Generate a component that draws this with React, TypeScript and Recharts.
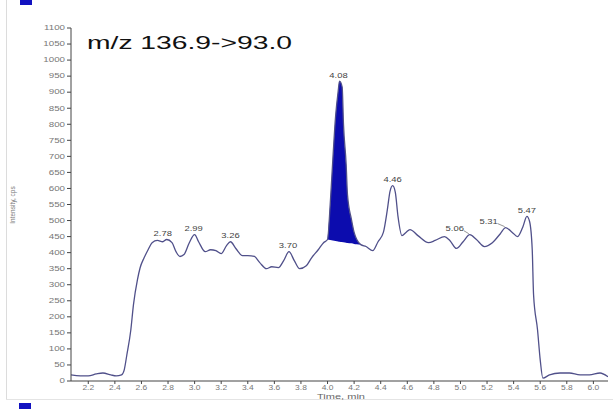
import { ComposedChart, Line, Area, XAxis, YAxis, LabelList } from "recharts";

// chromatogram trace (time in min, intensity in cps)
const times = [
  2.07, 2.14, 2.2, 2.26, 2.31, 2.37, 2.41, 2.45, 2.47, 2.49, 2.52, 2.54, 2.57, 2.59, 2.62, 2.65,
  2.68, 2.72, 2.76, 2.79, 2.83, 2.86, 2.89, 2.92, 2.96, 3.0, 3.03, 3.08, 3.12, 3.16, 3.2, 3.24,
  3.27, 3.31, 3.36, 3.4, 3.45, 3.49, 3.54, 3.58, 3.63, 3.67, 3.71, 3.75, 3.79, 3.84, 3.88, 3.93,
  3.97, 4.0, 4.02, 4.04, 4.06, 4.08, 4.09, 4.11, 4.12, 4.14, 4.15, 4.18, 4.2, 4.22, 4.25, 4.29,
  4.34, 4.38, 4.42, 4.45, 4.47, 4.49, 4.51, 4.53, 4.56, 4.59, 4.62, 4.68, 4.76, 4.81, 4.88, 4.92,
  4.97, 5.02, 5.07, 5.12, 5.18, 5.24, 5.3, 5.34, 5.39, 5.43, 5.47, 5.5, 5.52, 5.54, 5.55, 5.58,
  5.6, 5.62, 5.67, 5.75, 5.82, 5.9, 5.97, 6.05, 6.11,
];
const intensity = [
  19, 16, 16, 22, 25, 19, 16, 19, 34, 81, 159, 238, 316, 353, 384, 409,
  431, 438, 434, 441, 431, 403, 388, 394, 431, 456, 434, 403, 409, 406, 397, 422,
  434, 413, 391, 391, 388, 369, 350, 356, 353, 375, 403, 375, 350, 359, 384, 409,
  431, 441, 550, 691, 822, 903, 934, 916, 800, 675, 581, 503, 463, 441, 425, 419,
  406, 434, 463, 534, 591, 609, 588, 513, 453, 463, 472, 453, 431, 438, 450, 438,
  413, 434, 456, 441, 419, 431, 459, 478, 463, 450, 481, 513, 497, 409, 269, 159,
  66, 9, 19, 25, 25, 19, 19, 25, 13,
];
// integrated peak baseline (only inside the shaded window)
const fillTimes = [4.0, 4.02, 4.04, 4.06, 4.08, 4.09, 4.11, 4.12, 4.14, 4.15, 4.18, 4.2, 4.22, 4.25];
const fillBase = [441, 439, 438, 436, 435, 434, 433, 432, 431, 430, 429, 427, 426, 425];

// peak apex labels
const peakTimes = [2.79, 3.0, 3.27, 3.71, 4.09, 4.49, 5.07, 5.34, 5.5];
const peakText = ["2.78", "2.99", "3.26", "3.70", "4.08", "4.46", "5.06", "5.31", "5.47"];
const peakShift = [-4, -1, 0, -1, -1, 0, -15, -17, 0];

const yTicks = [0, 50, 100, 150, 200, 250, 300, 350, 400, 450, 500, 550, 600, 650, 700, 750, 800, 850, 900, 950, 1000, 1050, 1100];
const xTicks = [2.2, 2.4, 2.6, 2.8, 3.0, 3.2, 3.4, 3.6, 3.8, 4.0, 4.2, 4.4, 4.6, 4.8, 5.0, 5.2, 5.4, 5.6, 5.8, 6.0];
const yMinor = Array.from({ length: 111 }, (_, i) => i * 10);
const xMinor = Array.from({ length: 40 }, (_, i) => Math.round((2.1 + i * 0.1) * 100) / 100);

const data = times.map((t, i) => {
  const fi = fillTimes.indexOf(t);
  const pi = peakTimes.indexOf(t);
  return {
    t,
    v: intensity[i],
    band: fi >= 0 ? [fillBase[fi], intensity[i]] : null,
    lbl: pi >= 0 ? peakText[pi] : null,
    dx: pi >= 0 ? peakShift[pi] : 0,
  };
});

const FONT = "'Liberation Sans', Arial, sans-serif";

const YTick = ({ x, y, payload }: any) => (
  <g transform={`translate(${x},${y})`}>
    <text transform="scale(1.5,1)" textAnchor="end" dy={2.3} fontSize={6.5} fill="#777" fontFamily={FONT}>
      {payload.value}
    </text>
  </g>
);

const XTick = ({ x, y, payload }: any) => (
  <g transform={`translate(${x},${y})`}>
    <text transform="scale(1.3,1)" textAnchor="middle" dy={4.5} fontSize={6.5} fill="#777" fontFamily={FONT}>
      {payload.value.toFixed(1)}
    </text>
  </g>
);

const PeakLabel = (props: any) => {
  const { x, y, index } = props;
  const d = data[index];
  if (!d || !d.lbl) return null;
  const cx = x + d.dx;
  return (
    <g>
      {d.dx < -10 && <line x1={cx + 9} y1={y - 4} x2={x - 1} y2={y - 1} stroke="#666" strokeWidth={0.7} />}
      <g transform={`translate(${cx},${y - 3.5})`}>
        <text transform="scale(1.45,1)" textAnchor="middle" fontSize={6.5} fill="#444" fontFamily={FONT}>
          {d.lbl}
        </text>
      </g>
    </g>
  );
};

export default function App() {
  return (
    <div style={{ position: "absolute", left: 0, top: 0, width: 613, height: 409, background: "#fff", overflow: "hidden" }}>
      <div style={{ position: "absolute", left: 6, top: 0, width: 1, height: 399, background: "#dcdcdc" }} />
      <div style={{ position: "absolute", left: 6, top: 399, width: 607, height: 1, background: "#e4e4e4" }} />
      <div style={{ position: "absolute", left: 20, top: 0, width: 12, height: 5, background: "#1212c0" }} />
      <div style={{ position: "absolute", left: 19, top: 403, width: 12, height: 6, background: "#1212c0" }} />
      <ComposedChart width={613} height={409} data={data} margin={{ top: 28, right: 5, bottom: 8, left: 0 }}>
        <XAxis xAxisId="minor" dataKey="t" type="number" domain={[2.07, 6.11]} allowDataOverflow ticks={xMinor}
          height={0} tick={false} tickSize={2} axisLine={false} stroke="#444" />
        <XAxis dataKey="t" type="number" domain={[2.07, 6.11]} allowDataOverflow ticks={xTicks} height={20}
          tick={<XTick />} tickSize={3} tickMargin={1} stroke="#444" interval={0} />
        <YAxis yAxisId="minor" type="number" domain={[0, 1100]} allowDataOverflow ticks={yMinor} width={0}
          tick={false} tickSize={2} axisLine={false} stroke="#444" />
        <YAxis type="number" domain={[0, 1100]} allowDataOverflow ticks={yTicks} width={71}
          tick={<YTick />} tickSize={4} tickMargin={2} stroke="#444" interval={0} />
        <Area dataKey="band" type="monotone" fill="#0c0cae" fillOpacity={1} stroke="none" isAnimationActive={false} />
        <Line dataKey="v" type="monotone" stroke="#50508a" strokeWidth={1.3} dot={false} isAnimationActive={false}>
          <LabelList dataKey="lbl" content={<PeakLabel />} />
        </Line>
      </ComposedChart>
      <svg width={613} height={409} style={{ position: "absolute", left: 0, top: 0, pointerEvents: "none" }}>
        <text x={87} y={48.5} fontSize={19} fontFamily={FONT} fill="#111" textLength={205} lengthAdjust="spacingAndGlyphs">
          m/z 136.9-&gt;93.0
        </text>
        <text x={317} y={399} fontSize={6.5} fontFamily={FONT} fill="#666" textLength={48} lengthAdjust="spacingAndGlyphs">
          Time, min
        </text>
        <text x={15} y={205} fontSize={6.5} fontFamily={FONT} fill="#777" textAnchor="middle" transform="rotate(-90 15 205)">
          Intensity, cps
        </text>
      </svg>
    </div>
  );
}
